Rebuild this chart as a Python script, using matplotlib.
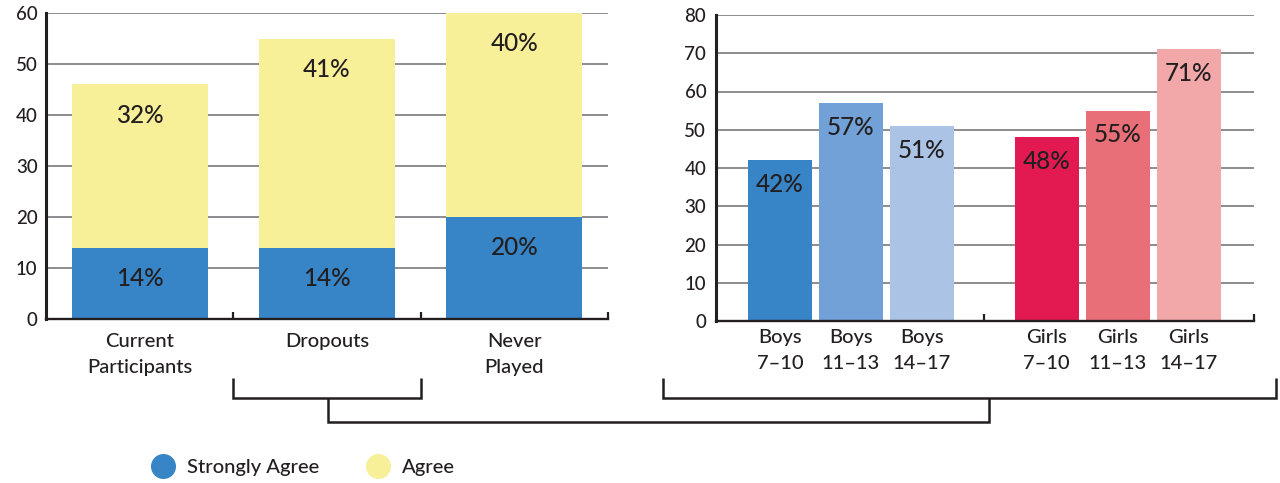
import matplotlib.pyplot as plt
from matplotlib.lines import Line2D

plt.rcParams['font.family'] = ['Lato', 'DejaVu Sans']

# left panel: stacked agreement by participation status
status = ["Current\nParticipants", "Dropouts", "Never\nPlayed"]
strongly_agree = [14, 14, 20]
agree = [32, 41, 40]

# right panel: agreement by gender and age group
groups = ["Boys\n7–10", "Boys\n11–13", "Boys\n14–17", "Girls\n7–10", "Girls\n11–13", "Girls\n14–17"]
group_values = [42, 57, 51, 48, 55, 71]

BLUE = "#3784c6"
YELLOW = "#f7f099"
GROUP_COLORS = ["#3784c6", "#71a1d6", "#abc3e5", "#e31a51", "#e86f77", "#f2a8a8"]
INK = "#231f20"
GRID = "#6d6e70"

W, H = 1280, 483
fig = plt.figure(figsize=(W / 100, H / 100), dpi=100)


def px(x, y):
    # pixel position (from top-left) -> figure fraction
    return x / W, 1 - y / H


def style_axes(ax, ymax, step):
    ax.set_ylim(0, ymax)
    ax.set_yticks(range(0, ymax + 1, step))
    ax.yaxis.grid(True, color=GRID, linewidth=1.1)
    ax.set_axisbelow(True)
    for s in ("top", "right"):
        ax.spines[s].set_visible(False)
    ax.spines["left"].set_linewidth(2.2)
    ax.spines["bottom"].set_linewidth(1.7)
    ax.spines["left"].set_color(INK)
    ax.spines["bottom"].set_color(INK)
    ax.tick_params(axis="y", length=0, pad=6, labelsize=13.5, labelcolor=INK)
    ax.tick_params(axis="x", which="major", length=0, labelsize=14.5, labelcolor=INK)
    ax.tick_params(axis="x", which="minor", direction="in", length=5, width=1.6, color=INK)
    for lbl in ax.get_xticklabels() + ax.get_yticklabels():
        lbl.set_fontweight("medium")
    for lbl in ax.get_xticklabels():
        lbl.set_linespacing(1.65)


# ---- left chart ----
ax1 = fig.add_axes([46 / W, (H - 319) / H, 562 / W, 306 / H])
xs = list(range(len(status)))
bw = 0.726
ax1.bar(xs, strongly_agree, width=bw, color=BLUE, zorder=2)
ax1.bar(xs, agree, width=bw, bottom=strongly_agree, color=YELLOW, zorder=2)
ax1.set_xlim(-0.5, 2.5)
ax1.set_xticks(xs)
ax1.set_xticklabels(status)
ax1.set_xticks([0.5, 1.5, 2.5], minor=True)
style_axes(ax1, 60, 10)
ax1.tick_params(axis="x", which="major", pad=10)
for x, sa, a in zip(xs, strongly_agree, agree):
    ax1.text(x, sa - 6, f"{sa}%", ha="center", va="center", fontsize=17.5,
             fontweight="medium", color=INK, zorder=3)
    ax1.text(x, sa + a - 6, f"{a}%", ha="center", va="center", fontsize=17.5,
             fontweight="medium", color=INK, zorder=3)

# ---- right chart ----
ax2 = fig.add_axes([716 / W, (H - 321) / H, 538 / W, 306 / H])
gx = [0, 1, 2, 3.76, 4.76, 5.76]
ax2.bar(gx, group_values, width=0.9, color=GROUP_COLORS, zorder=2)
ax2.set_xlim(-0.9, 6.68)
ax2.set_xticks(gx)
ax2.set_xticklabels(groups)
ax2.set_xticks([2.88, 6.68], minor=True)
style_axes(ax2, 80, 10)
ax2.tick_params(axis="x", which="major", pad=6)
ax2.tick_params(axis="y", pad=7)
for x, v in zip(gx, group_values):
    ax2.text(x, v - 6.3, f"{v}%", ha="center", va="center", fontsize=17.5,
             fontweight="medium", color=INK, zorder=3)

# ---- connecting brackets ----
def line(points):
    xs_, ys_ = zip(*[px(x, y) for x, y in points])
    fig.add_artist(Line2D(xs_, ys_, transform=fig.transFigure, color=INK,
                          linewidth=1.8, solid_joinstyle="miter", solid_capstyle="butt"))


line([(233, 378), (233, 398), (421, 398), (421, 378)])
line([(663, 378), (663, 398), (1276, 398), (1276, 378)])
line([(328, 398), (328, 422), (989, 422), (989, 398)])

# ---- legend ----
handles = [
    Line2D([], [], linestyle="none", marker="o", markersize=17, color=BLUE, label="Strongly Agree"),
    Line2D([], [], linestyle="none", marker="o", markersize=17, color=YELLOW, label="Agree"),
]
leg = fig.legend(handles=handles, loc="center left", bbox_to_anchor=px(153, 467), ncol=2,
                 frameon=False, fontsize=14.5, handlelength=1.0, handletextpad=0.7,
                 columnspacing=2.4, borderpad=0, borderaxespad=0, labelcolor=INK)
for t in leg.get_texts():
    t.set_fontweight("medium")

fig.savefig("out.png", dpi=100)
